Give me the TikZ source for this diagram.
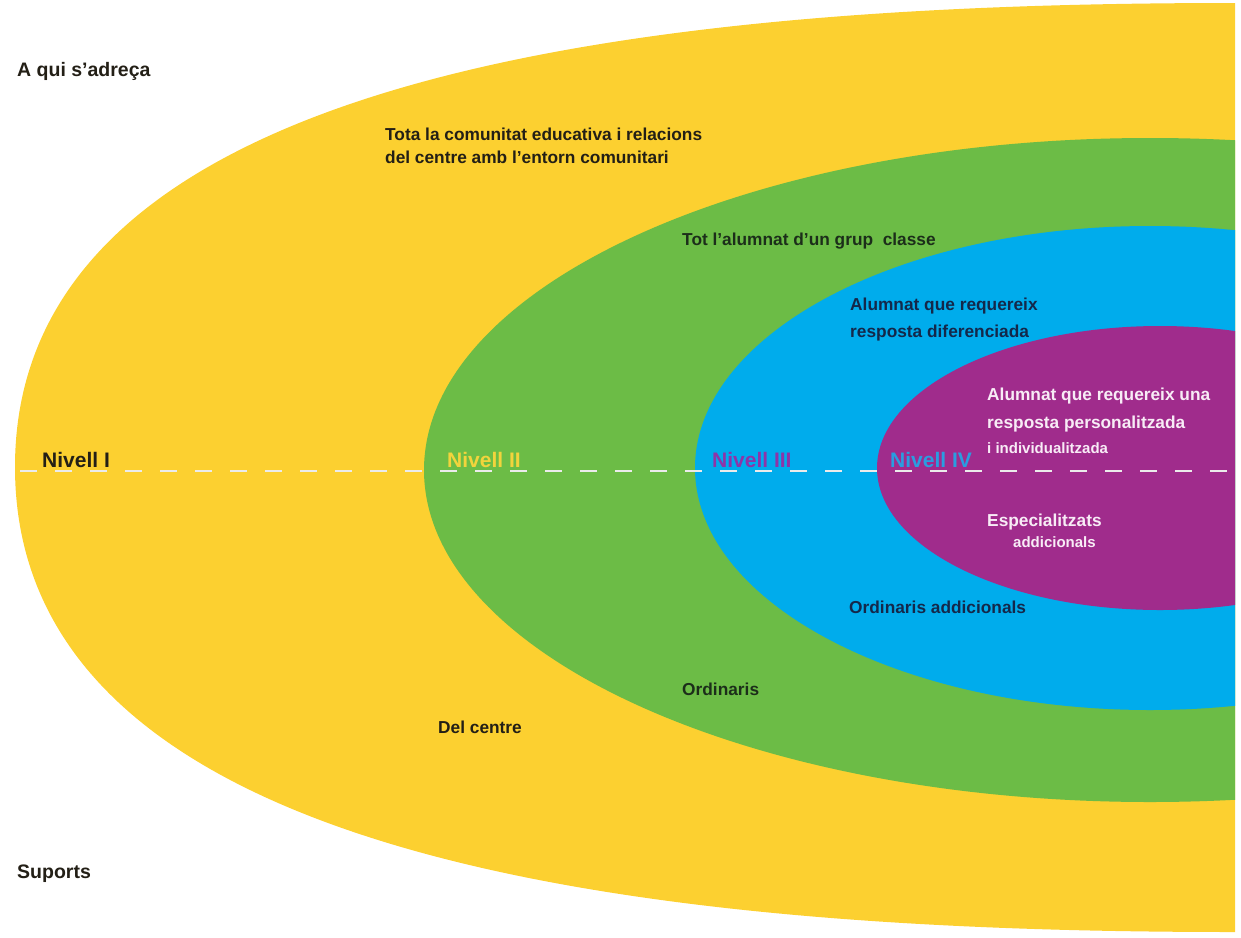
\documentclass[tikz,border=0pt]{standalone}
\usepackage{fontspec}
\setmainfont{Liberation Sans}
\definecolor{groc}{HTML}{FCD030}
\definecolor{verd}{HTML}{6CBC46}
\definecolor{blau}{HTML}{00ACEC}
\definecolor{lila}{HTML}{A02C8C}
\definecolor{fosc}{HTML}{231F16}
\definecolor{verdfosc}{HTML}{1C2E1A}
\definecolor{blaufosc}{HTML}{14284A}
\definecolor{blanc}{HTML}{F8ECF6}
\definecolor{grocniv}{HTML}{F2D43C}
\definecolor{lilaniv}{HTML}{8E34A8}
\definecolor{blauniv}{HTML}{2A9DE0}
\tikzset{
  txt/.style={anchor=base west, inner sep=0pt, font=\bfseries\fontsize{17.3}{20}\selectfont},
  petit/.style={anchor=base west, inner sep=0pt, font=\bfseries\fontsize{15}{18}\selectfont},
  titol/.style={anchor=base west, inner sep=0pt, font=\bfseries\fontsize{19.5}{22}\selectfont},
  nivell/.style={anchor=base west, inner sep=0pt, font=\bfseries\fontsize{21}{24}\selectfont}
}
\begin{document}
\begin{tikzpicture}[x=1pt,y=-1pt]
        \useasboundingbox (0,0) rectangle (1241,937);
        \begin{scope}
        \clip (0,0) rectangle (1235,937);
        % Nivell I, groc
        \fill[groc] (15,467) .. controls (15,67) and (665,3) .. (1235,3) -- (1235,932) .. controls (665,932) and (15,868) .. (15,467) -- cycle;
        % Nivell II, verd
        \fill[verd] (1150,470) ellipse [x radius=726, y radius=332];
        % Nivell III, blau
        \fill[blau] (1150,468) ellipse [x radius=455, y radius=242];
        % Nivell IV, lila
        \fill[lila] (1160,468) ellipse [x radius=283, y radius=142];
        \end{scope}

        % linia discontinua
        \draw[white!92!black, line width=2.5pt, dash pattern=on 17pt off 18pt] (20,471) -- (1235,471);

        \node[titol, text=fosc] (adreca) at (17,76) {A qui s’adreça};
        \node[titol, text=fosc] (suports) at (17,878) {Suports};

        \node[nivell, text=fosc] (niv1) at (42,467) {Nivell I};
        \node[nivell, text=grocniv] (niv2) at (447,467) {Nivell II};
        \node[nivell, text=lilaniv] (niv3) at (712,467) {Nivell III};
        \node[nivell, text=blauniv] (niv4) at (890,467) {Nivell IV};

        % a qui s'adreca
        \node[txt, text=fosc] (tota) at (385,140) {Tota la comunitat educativa i relacions};
        \node[txt, text=fosc] (entorn) at (385,163) {del centre amb l'entorn comunitari};
        \node[txt, text=verdfosc] (grup) at (682,245) {Tot l’alumnat d’un grup\ \ classe};
        \node[txt, text=blaufosc] (requereix) at (850,310) {Alumnat que requereix};
        \node[txt, text=blaufosc] (diferenciada) at (850,337) {resposta diferenciada};
        \node[txt, text=blanc] (una) at (987,400) {Alumnat que requereix una};
        \node[txt, text=blanc] (personalitzada) at (987,428) {resposta personalitzada};
        \node[petit, text=blanc] (individual) at (987,453) {i individualitzada};

        % suports
        \node[txt, text=blanc] (especialitzats) at (987,526) {Especialitzats};
        \node[petit, text=blanc] (addicionals) at (1013,547) {addicionals};
        \node[txt, text=blaufosc] (ordaddicionals) at (849,613) {Ordinaris addicionals};
        \node[txt, text=verdfosc] (ordinaris) at (682,695) {Ordinaris};
        \node[txt, text=fosc] (delcentre) at (438,733) {Del centre};
\end{tikzpicture}
\end{document}
